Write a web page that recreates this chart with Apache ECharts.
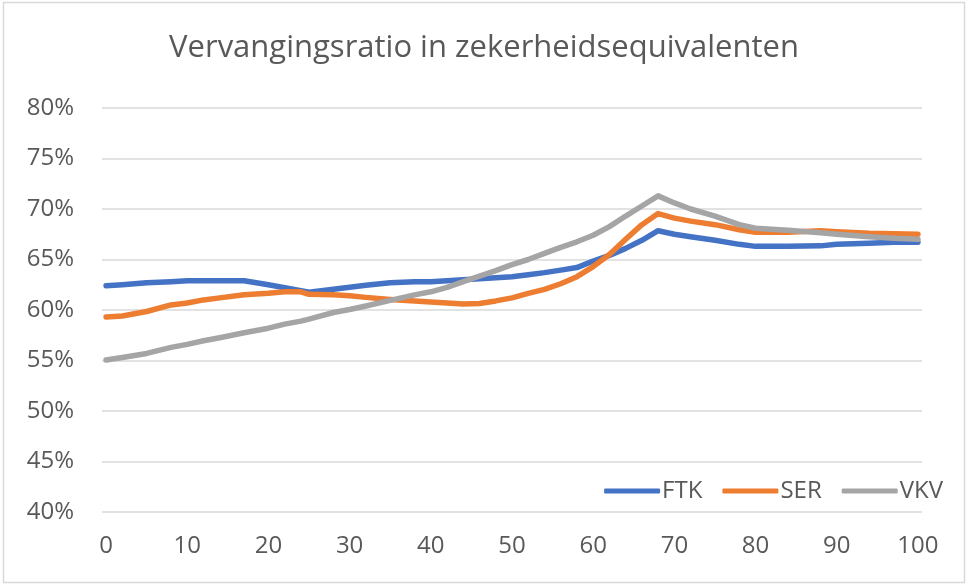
<!DOCTYPE html>
<html>
<head>
<meta charset="utf-8">
<script src="https://cdn.jsdelivr.net/npm/echarts@6/dist/echarts.min.js"></script>
<style>
  html, body { margin: 0; padding: 0; background: #fff; }
  #chart { width: 968px; height: 586px; }
</style>
</head>
<body>
<div id="chart"></div>
<script>
const xValues = [0, 2, 5, 8, 10, 12, 14, 17, 20, 22, 24, 25, 28, 30, 32, 35, 38, 40, 42, 44, 46, 48, 50,
  52, 54, 56, 58, 60, 62, 64, 66, 68, 70, 72, 75, 78, 80, 84, 88, 90, 94, 97, 100];

const ftk = [62.4, 62.5, 62.7, 62.8, 62.9, 62.9, 62.9, 62.9, 62.5, 62.2, 61.9, 61.75, 62.05, 62.25, 62.45, 62.7, 62.8, 62.8, 62.9, 63.0, 63.1, 63.2, 63.3,
  63.5, 63.7, 63.95, 64.2, 64.85, 65.4, 66.1, 66.9, 67.85, 67.5, 67.25, 66.9, 66.5, 66.3, 66.3, 66.35, 66.5, 66.6, 66.7, 66.7];

const ser = [59.3, 59.4, 59.85, 60.5, 60.7, 61.0, 61.2, 61.5, 61.65, 61.8, 61.8, 61.55, 61.5, 61.4, 61.25, 61.05, 60.9, 60.8, 60.7, 60.6, 60.65, 60.9, 61.2,
  61.65, 62.05, 62.6, 63.3, 64.3, 65.5, 67.0, 68.45, 69.55, 69.1, 68.8, 68.45, 67.95, 67.7, 67.7, 67.85, 67.75, 67.6, 67.55, 67.5];

const vkv = [55.05, 55.3, 55.7, 56.3, 56.6, 56.95, 57.25, 57.75, 58.2, 58.6, 58.9, 59.1, 59.75, 60.05, 60.4, 60.95, 61.5, 61.8, 62.25, 62.8, 63.35, 63.9, 64.5,
  65.0, 65.6, 66.2, 66.75, 67.4, 68.25, 69.3, 70.3, 71.3, 70.6, 70.0, 69.3, 68.45, 68.1, 67.9, 67.65, 67.5, 67.25, 67.1, 67.0];

const xTickLabels = [0, 10, 20, 30, 40, 50, 60, 70, 80, 90, 100];
const seriesNames = ['FTK', 'SER', 'VKV'];
const colors = ['#4472C4', '#ED7D31', '#A5A5A5'];

const font = '"Open Sans", sans-serif';
const textGray = '#595959';

function toPairs(vals) {
  return vals.map((v, i) => [xValues[i], v]);
}

const chart = echarts.init(document.getElementById('chart'));

const option = {
  animation: false,
  title: {
    text: 'Vervangingsratio in zekerheidsequivalenten',
    left: 'center',
    top: 28,
    textStyle: { fontFamily: font, fontSize: 31, fontWeight: 'normal', color: textGray }
  },
  graphic: [{
    type: 'rect',
    shape: { x: 3.5, y: 2.5, width: 961, height: 580 },
    style: { fill: null, stroke: '#d9d9d9', lineWidth: 1.5 },
    silent: true
  }],
  legend: {
    data: seriesNames,
    right: 20,
    top: 474,
    itemWidth: 56,
    itemHeight: 5,
    itemGap: 20,
    icon: 'roundRect',
    textStyle: { fontFamily: font, fontSize: 24, color: textGray, padding: [0, 0, 0, -3] }
  },
  grid: { left: 102, right: 46, top: 108, bottom: 74 },
  xAxis: {
    type: 'value',
    min: -0.5,
    max: 100.5,
    axisLine: { show: false },
    axisTick: { show: false },
    splitLine: { show: false },
    axisLabel: {
      customValues: xTickLabels,
      margin: 22,
      fontFamily: font,
      fontSize: 24,
      color: textGray
    }
  },
  yAxis: {
    type: 'value',
    min: 40,
    max: 80,
    interval: 5,
    axisLine: { show: false },
    axisTick: { show: false },
    splitLine: { lineStyle: { color: '#d9d9d9', width: 1.5 } },
    axisLabel: {
      formatter: '{value}%',
      margin: 28,
      fontFamily: font,
      fontSize: 24,
      color: textGray
    }
  },
  series: [ftk, ser, vkv].map((vals, i) => ({
    name: seriesNames[i],
    type: 'line',
    data: toPairs(vals),
    showSymbol: false,
    symbol: 'none',
    color: colors[i],
    lineStyle: { width: 5.5, color: colors[i], cap: 'round', join: 'round' }
  }))
};

chart.setOption(option);
</script>
</body>
</html>
